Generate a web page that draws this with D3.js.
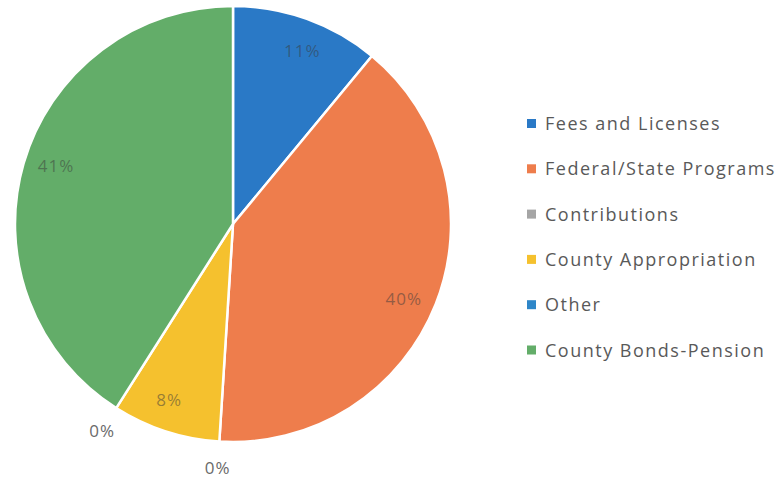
<!DOCTYPE html>
<html><head><meta charset="utf-8">
<script src="https://cdn.jsdelivr.net/npm/d3@7"></script>
<style>body{margin:0;background:#fff}svg{display:block}</style>
</head><body>
<script>
const categories = ["Fees and Licenses","Federal/State Programs","Contributions","County Appropriation","Other","County Bonds-Pension"];
const values = [11, 40, 0, 8, 0, 41];
const labels = ["11%","40%","0%","8%","0%","41%"];
const colors = ["#2a79c6","#ee7d4c","#a5a5a5","#f5c12e","#2e86c8","#63ad69"];

const W = 782, H = 480;
const svg = d3.select("body").append("svg").attr("width", W).attr("height", H);
const cx = 233, cy = 224, R = 218;
const data = categories.map((c,i)=>({name:c, value:values[i], label:labels[i], color:colors[i]}));
const pie = d3.pie().sort(null).value(d=>d.value);
const arcs = pie(data);
const arc = d3.arc().innerRadius(0).outerRadius(R);
const g = svg.append("g").attr("transform", `translate(${cx},${cy})`);
g.selectAll("path").data(arcs.filter(a=>a.data.value>0)).join("path")
  .attr("d", arc).attr("fill", d=>d.data.color)
  .attr("stroke", "#fff").attr("stroke-width", 2.5).attr("stroke-linejoin","round");

g.selectAll("text.lbl").data(arcs).join("text")
  .attr("class","lbl")
  .attr("transform", d=>{
    const inside = d.data.value>0;
    const a = (d.startAngle + d.endAngle)/2 + (inside ? 0.035 : 0);
    const r = inside ? R*0.855 : R+26;
    return `translate(${Math.sin(a)*r},${-Math.cos(a)*r})`;
  })
  .attr("text-anchor","middle").attr("dominant-baseline","central")
  .attr("font-family","Open Sans, sans-serif").attr("font-size",17)
  .attr("letter-spacing", 1)
  .attr("fill", d=>d.data.value>0 ? "#3a3a3a" : "#6a6a6a")
  .attr("fill-opacity", d=>d.data.value>0 ? 0.5 : 1)
  .text(d=>d.data.label);

const leg = svg.append("g").attr("transform","translate(527,123)");
const rows = leg.selectAll("g").data(data).join("g")
  .attr("transform",(d,i)=>`translate(0,${i*45.3})`);
rows.append("rect").attr("x",0).attr("y",-4).attr("width",9).attr("height",9).attr("fill",d=>d.color);
rows.append("text").attr("x",18).attr("y",0).attr("dominant-baseline","central")
  .attr("font-family","Open Sans, sans-serif").attr("font-size",18).attr("letter-spacing",1.5)
  .attr("fill","#595959")
  .text(d=>d.name);
</script>
</body></html>
